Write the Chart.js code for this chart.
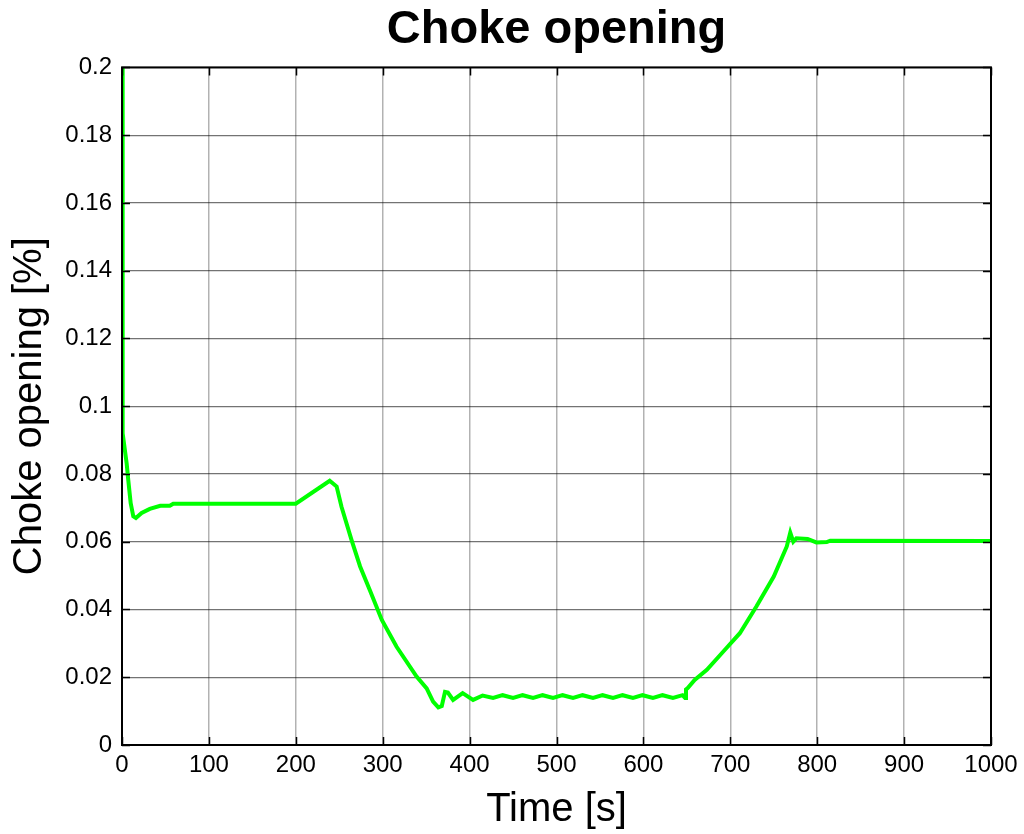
<!DOCTYPE html>
<html>
<head>
<meta charset="utf-8">
<script src="https://cdn.jsdelivr.net/npm/chart.js@4/dist/chart.umd.min.js"></script>
<style>
  html, body { margin: 0; padding: 0; background: #fff; }
  #wrap { width: 1024px; height: 834px; }
</style>
</head>
<body>
<div id="wrap"><canvas id="chokeChart" width="1024" height="834"></canvas></div>
<script>
// time [s] and choke opening
const times = [0, 0.5, 1, 5.4, 7.3, 10, 13, 16, 22.6, 32, 44, 55, 59, 200,
    239, 247, 252.6, 264, 274, 285, 299, 316, 339, 350.6, 358, 364, 368, 371.7, 375, 381, 392, 404,
    415, 427, 438, 450, 461, 473, 484, 496, 507, 519, 530, 542, 553, 565, 576, 588, 599, 611, 622, 634, 645, 648,
    649, 651, 659, 673, 692, 711, 730, 750, 765, 769, 772.5, 776, 789, 799, 811, 815, 1000];
const opening = [0.2, 0.12, 0.092, 0.083, 0.078, 0.0714, 0.0675, 0.067, 0.0685, 0.0697, 0.0706, 0.0706, 0.0712, 0.0712,
    0.078, 0.0763, 0.0703, 0.0606, 0.0527, 0.0458, 0.0369, 0.029, 0.0202, 0.0167, 0.0128, 0.0111, 0.0115, 0.0157, 0.0155, 0.0133, 0.0153, 0.0133,
    0.0146, 0.0139, 0.0147, 0.0139, 0.0147, 0.0139, 0.0147, 0.0139, 0.0147, 0.0139, 0.0147, 0.0139, 0.0147, 0.0139, 0.0147, 0.0139, 0.0147, 0.0139, 0.0147, 0.0139, 0.0147, 0.0139,
    0.0164, 0.0168, 0.0192, 0.0222, 0.0276, 0.033, 0.0409, 0.0497, 0.0586, 0.0627, 0.060, 0.061, 0.0608, 0.0598, 0.0599, 0.0603, 0.0602];

const xTicks = [0, 100, 200, 300, 400, 500, 600, 700, 800, 900, 1000];
const yTicks = [0, 0.02, 0.04, 0.06, 0.08, 0.1, 0.12, 0.14, 0.16, 0.18, 0.2];

const font = "Arial, 'Liberation Sans', sans-serif";

// MATLAB-style box with inward ticks on all four sides
const boxTicks = {
    id: "boxTicks",
    afterDraw(chart) {
        const { ctx, chartArea: a, scales } = chart;
        const len = 8;
        ctx.save();
        ctx.strokeStyle = "#000";
        ctx.lineWidth = 1.5;
        ctx.beginPath();
        xTicks.forEach((t) => {
            const px = Math.round(scales.x.getPixelForValue(t)) + 0.5;
            ctx.moveTo(px, a.bottom); ctx.lineTo(px, a.bottom - len);
            ctx.moveTo(px, a.top); ctx.lineTo(px, a.top + len);
        });
        yTicks.forEach((t) => {
            const py = Math.round(scales.y.getPixelForValue(t)) + 0.5;
            ctx.moveTo(a.left, py); ctx.lineTo(a.left + len, py);
            ctx.moveTo(a.right, py); ctx.lineTo(a.right - len, py);
        });
        ctx.stroke();
        ctx.lineWidth = 2;
        ctx.strokeRect(a.left, a.top, a.right - a.left, a.bottom - a.top);
        ctx.restore();
    }
};

new Chart(document.getElementById("chokeChart"), {
    type: "line",
    data: {
        datasets: [{
            label: "Choke opening",
            data: times.map((t, i) => ({ x: t, y: opening[i] })),
            borderColor: "#00ff00",
            borderWidth: 4,
            pointRadius: 0,
            tension: 0,
            fill: false
        }]
    },
    options: {
        responsive: false,
        animation: false,
        layout: { padding: { left: 0, right: 33, top: 0, bottom: 0 } },
        plugins: {
            legend: { display: false },
            tooltip: { enabled: false },
            title: {
                display: true,
                fullSize: false,
                text: "Choke opening",
                color: "#000",
                font: { family: font, size: 47, weight: "bold" },
                padding: { top: 2, bottom: 9 }
            }
        },
        scales: {
            x: {
                type: "linear",
                min: 0,
                max: 1000,
                afterBuildTicks: (s) => { s.ticks = xTicks.map((v) => ({ value: v })); },
                afterFit: (s) => { s.height = 89; },
                grid: { color: "rgba(0,0,0,0.3)", lineWidth: 1.5, drawTicks: false },
                border: { display: false },
                ticks: {
                    color: "#000",
                    font: { family: font, size: 24 },
                    padding: 6,
                    maxRotation: 0,
                    callback: (v) => String(v)
                },
                title: {
                    display: true,
                    text: "Time [s]",
                    color: "#000",
                    font: { family: font, size: 40 },
                    padding: { top: 0, bottom: 0 }
                }
            },
            y: {
                min: 0,
                max: 0.2,
                afterBuildTicks: (s) => { s.ticks = yTicks.map((v) => ({ value: v })); },
                afterFit: (s) => { s.width = 122; },
                grid: { color: "rgba(0,0,0,0.55)", lineWidth: 1.2, drawTicks: false },
                border: { display: false },
                ticks: {
                    color: "#000",
                    font: { family: font, size: 24 },
                    padding: 10,
                    callback: (v) => String(Number(v.toFixed(2)))
                },
                title: {
                    display: true,
                    text: "Choke opening [%]",
                    color: "#000",
                    font: { family: font, size: 40 },
                    padding: { top: 6, bottom: 0 }
                }
            }
        }
    },
    plugins: [boxTicks]
});
</script>
</body>
</html>
